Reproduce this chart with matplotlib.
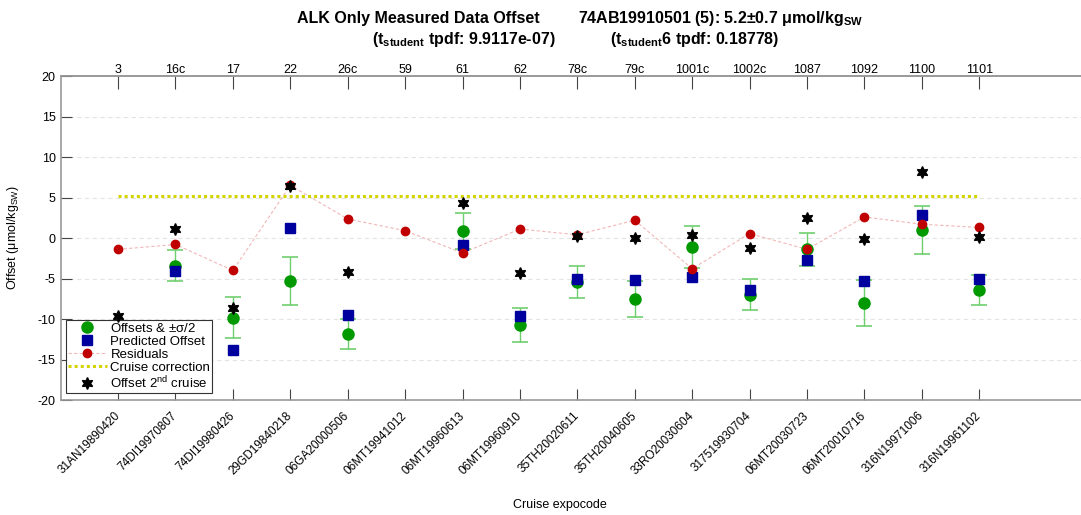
import matplotlib.pyplot as plt
import numpy as np
from matplotlib.lines import Line2D

plt.rcParams['font.family'] = ['Liberation Sans', 'DejaVu Sans']
plt.rcParams['mathtext.default'] = 'regular'

# cruise ids (top axis) and expocodes (bottom axis)
cruise_ids = ['3', '16c', '17', '22', '26c', '59', '61', '62', '78c', '79c',
              '1001c', '1002c', '1087', '1092', '1100', '1101']
expocodes = ['31AN19890420', '74DI19970807', '74DI19980426', '29GD19840218',
             '06GA20000506', '06MT19941012', '06MT19960613', '06MT19960910',
             '35TH20020611', '35TH20040605', '33RO20030604', '317519930704',
             '06MT20030723', '06MT20010716', '316N19971006', '316N19961102']

nan = np.nan
offsets = [nan, -3.4, -9.85, -5.3, -11.85, nan, 0.85, -10.8, -5.4, -7.5,
           -1.1, -7.0, -1.4, -8.05, 1.0, -6.45]
half_sigma = [nan, 1.9, 2.55, 3.0, 1.85, nan, 2.25, 2.1, 2.0, 2.2,
              2.6, 1.9, 2.0, 2.85, 3.0, 1.85]
predicted = [nan, -4.1, -13.8, 1.2, -9.5, nan, -0.9, -9.6, -5.0, -5.2,
             -4.85, -6.4, -2.7, -5.3, 2.8, -5.05]
residuals = [-1.4, -0.8, -4.0, 6.5, 2.35, 0.9, -1.85, 1.1, 0.4, 2.2,
             -3.8, 0.55, -1.4, 2.6, 1.7, 1.3]
offset_2nd = [-9.6, 1.1, -8.6, 6.4, -4.2, nan, 4.3, -4.3, 0.3, 0.0,
              0.4, -1.2, 2.5, -0.1, 8.1, 0.15]
correction = 5.2

x = np.arange(1, len(cruise_ids) + 1)

fig = plt.figure(figsize=(10.81, 5.15), dpi=100)
ax = fig.add_axes([0.0561, 0.2233, 0.956, 0.6291])

ax.set_xlim(0, 18)
ax.set_ylim(-20, 20)
ax.set_yticks(np.arange(-20, 21, 5))
for yv in np.arange(-15, 20, 5):
    ax.axhline(yv, color='#e4e4e4', lw=0.8, ls=(0, (4, 3)), zorder=0)

star = (6, 1, 0)
ax.plot(x, residuals, ls=(0, (3, 2)), color='#f2b8b8', lw=0.8, zorder=1)
ax.errorbar(x, offsets, yerr=half_sigma, fmt='none', ecolor='#6fcf6f',
            elinewidth=1.0, capsize=6, capthick=1.2, zorder=2)
ax.plot(x, offsets, 'o', color='#009900', ms=8, ls='none', zorder=3)
ax.plot(x, predicted, 's', color='#00009e', ms=7, ls='none', zorder=4)
ax.plot(x, residuals, 'o', color='#c00000', ms=6, ls='none', zorder=5)
ax.plot([x[0], x[-1]], [correction, correction], ls=(0, (1, 1)),
        color='#d4d400', lw=2.2, zorder=2)
ax.plot(x, offset_2nd, marker=star, color='black', ms=8.5, ls='none', zorder=6)

ax.set_xticks(x)
ax.set_xticklabels(expocodes, rotation=45, ha='right', va='center',
                   rotation_mode='anchor', fontsize=8.5)
ax.tick_params(axis='x', direction='in', length=8, pad=10, colors='#444444',
               labelcolor='black')
ax.tick_params(axis='y', direction='in', length=8, labelsize=9,
               colors='#444444', labelcolor='black')
ax.set_yticklabels([str(v) for v in range(-20, 21, 5)])

top = ax.secondary_xaxis('top')
top.set_xticks(x)
top.set_xticklabels(cruise_ids, fontsize=9)
top.tick_params(direction='in', length=9, pad=0, colors='#444444',
                labelcolor='black')
top.spines['top'].set_color('#999999')
top.spines['top'].set_linewidth(1.2)

for s in ['left', 'bottom', 'top']:
    ax.spines[s].set_color('#999999')
    ax.spines[s].set_linewidth(1.2)
ax.spines['right'].set_visible(False)

ax.set_ylabel('Offset ($\\mu$mol/kg$_{SW}$)', fontsize=9, labelpad=12)
fig.text(0.518, 0.008, 'Cruise expocode', fontsize=9, ha='center', va='bottom')

handles = [
    Line2D([], [], marker='o', color='#009900', ms=8, ls='none'),
    Line2D([], [], marker='s', color='#00009e', ms=7, ls='none'),
    Line2D([], [], marker='o', ms=6, ls=(0, (3, 2)), lw=0.8,
           mfc='#c00000', mec='#c00000', color='#f2b8b8'),
    Line2D([], [], color='#d4d400', ls=(0, (1, 1)), lw=2.2),
    Line2D([], [], marker=star, color='black', ms=8.5, ls='none'),
]
labels = ['Offsets & $\\pm\\sigma$/2', 'Predicted Offset', 'Residuals',
          'Cruise correction', 'Offset 2$^{nd}$ cruise']
leg = ax.legend(handles, labels, loc='upper left',
                bbox_to_anchor=(0.0048, 0.247), fontsize=9.5, frameon=True,
                fancybox=False, edgecolor='#333333', framealpha=1,
                borderpad=0.15, labelspacing=0.05, handlelength=3.0,
                handletextpad=0.25, borderaxespad=0)
leg.get_frame().set_linewidth(0.8)

fig.text(0.275, 0.965, 'ALK Only Measured Data Offset', fontsize=11.5,
         fontweight='bold', ha='left', va='center')
fig.text(0.535, 0.965, '74AB19910501 (5): 5.2$\\pm$0.7 $\\mu$mol/kg$_{SW}$',
         fontsize=11.5, fontweight='bold', ha='left', va='center')
fig.text(0.344, 0.923, '(t$_{student}$ tpdf: 9.9117e-07)', fontsize=11.5,
         fontweight='bold', ha='left', va='center')
fig.text(0.564, 0.923, '(t$_{student}$6 tpdf: 0.18778)', fontsize=11.5,
         fontweight='bold', ha='left', va='center')

fig.savefig('out.png', dpi=100)
